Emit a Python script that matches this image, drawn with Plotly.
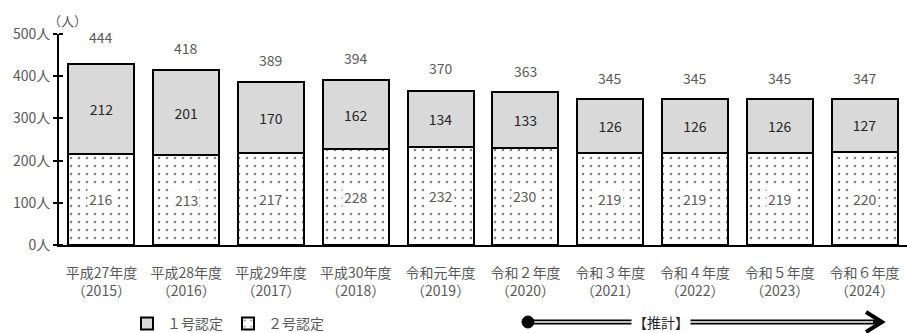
import plotly.graph_objects as go

# Fiscal-year categories (two-line tick labels)
years = ["平成27年度<br>（2015）", "平成28年度<br>（2016）", "平成29年度<br>（2017）",
         "平成30年度<br>（2018）", "令和元年度<br>（2019）", "令和２年度<br>（2020）",
         "令和３年度<br>（2021）", "令和４年度<br>（2022）", "令和５年度<br>（2023）",
         "令和６年度<br>（2024）"]
type1 = [212, 201, 170, 162, 134, 133, 126, 126, 126, 127]   # 1号認定
type2 = [216, 213, 217, 228, 232, 230, 219, 219, 219, 220]   # 2号認定
totals = [444, 418, 389, 394, 370, 363, 345, 345, 345, 347]

y_ticks = [0, 100, 200, 300, 400, 500]
y_ticktext = ["0人", "100人", "200人", "300人", "400人", "500人"]

FONT = "Noto Sans CJK JP, sans-serif"
GRAY = "#595959"
DARK = "#262626"

W, H = 907, 333
L, T, B = 59, 34, 88
PLOT_W, PLOT_H = W - L, H - T - B

fig = go.Figure()

fig.add_bar(
    x=years, y=type2, name="２号認定",
    marker=dict(color="white", line=dict(color="black", width=2),
                pattern=dict(shape=".", fgcolor="black", bgcolor="white",
                             size=8, solidity=0.08)),
    legendrank=2,
)
fig.add_bar(
    x=years, y=type1, name="１号認定",
    marker=dict(color="#d9d9d9", line=dict(color="black", width=2)),
    text=[str(v) for v in type1], textposition="inside",
    insidetextanchor="middle",
    textfont=dict(family=FONT, size=14, color=DARK),
    legendrank=1,
)

annotations = []
# 2号認定 values on a white patch inside the dotted segment
for x, v in zip(years, type2):
    annotations.append(dict(
        x=x, y=v / 2, xref="x", yref="y", text=str(v), showarrow=False,
        font=dict(family=FONT, size=14, color=GRAY),
        bgcolor="white", borderpad=1,
    ))
# totals above each stack
for x, t in zip(years, totals):
    annotations.append(dict(
        x=x, y=t, xref="x", yref="y", text=str(t), showarrow=False,
        yshift=21, font=dict(family=FONT, size=14, color=GRAY),
    ))
# unit label above the y axis
annotations.append(dict(
    x=0, y=1, xref="paper", yref="paper", text="（人）", showarrow=False,
    xanchor="center", yanchor="bottom", xshift=8, yshift=2,
    font=dict(family=FONT, size=13, color=GRAY),
))

# Projection marker: dot, double rule, arrowhead, label
def px(x):
    return (x - L) / PLOT_W
def py(y):
    return (H - B - y) / PLOT_H

arrow_y = py(322)
shapes = [
    dict(type="line", xref="paper", yref="paper", x0=px(528), x1=px(878),
         y0=arrow_y, y1=arrow_y, line=dict(color="black", width=5)),
    dict(type="line", xref="paper", yref="paper", x0=px(534), x1=px(873),
         y0=arrow_y, y1=arrow_y, line=dict(color="white", width=1.5)),
    dict(type="circle", xref="paper", yref="paper",
         x0=px(522), x1=px(534), y0=py(328), y1=py(316),
         fillcolor="black", line=dict(color="black", width=1)),
    dict(type="path", xref="paper", yref="paper",
         path=f"M {px(866)} {py(312)} L {px(882)} {arrow_y} L {px(866)} {py(332)}",
         line=dict(color="black", width=4)),
]
annotations.append(dict(
    x=px(661), y=arrow_y, xref="paper", yref="paper", text="【推計】",
    showarrow=False, bgcolor="white", borderpad=1,
    xanchor="center", yanchor="middle",
    font=dict(family=FONT, size=14, color=DARK),
))

fig.update_layout(
    width=W, height=H,
    margin=dict(l=L, r=0, t=T, b=B, autoexpand=False),
    barmode="stack", bargap=0.22,
    paper_bgcolor="white", plot_bgcolor="white",
    font=dict(family=FONT, size=13, color=GRAY),
    showlegend=True,
    legend=dict(orientation="h", xref="container", yref="container",
                x=127 / W, y=1 - 324 / H, xanchor="left", yanchor="middle",
                traceorder="normal",
                font=dict(family=FONT, size=14, color=GRAY),
                itemwidth=30, tracegroupgap=0),
    annotations=annotations,
    shapes=shapes,
    uniformtext=dict(minsize=10, mode="show"),
)
fig.update_xaxes(
    showline=True, linecolor="black", linewidth=2, ticks="",
    tickfont=dict(family=FONT, size=14, color=GRAY),
    ticklabelstandoff=14,
    showgrid=False,
)
fig.update_yaxes(
    range=[0, 500], tickvals=y_ticks, ticktext=y_ticktext,
    showline=True, linecolor="black", linewidth=2,
    ticks="outside", ticklen=4, tickwidth=2, tickcolor="black",
    minor=dict(tickvals=y_ticks, ticks="inside", ticklen=4,
               tickwidth=2, tickcolor="black"),
    showgrid=False, zeroline=False,
    tickfont=dict(family=FONT, size=14, color=GRAY),
)

fig.write_html("out.html")
